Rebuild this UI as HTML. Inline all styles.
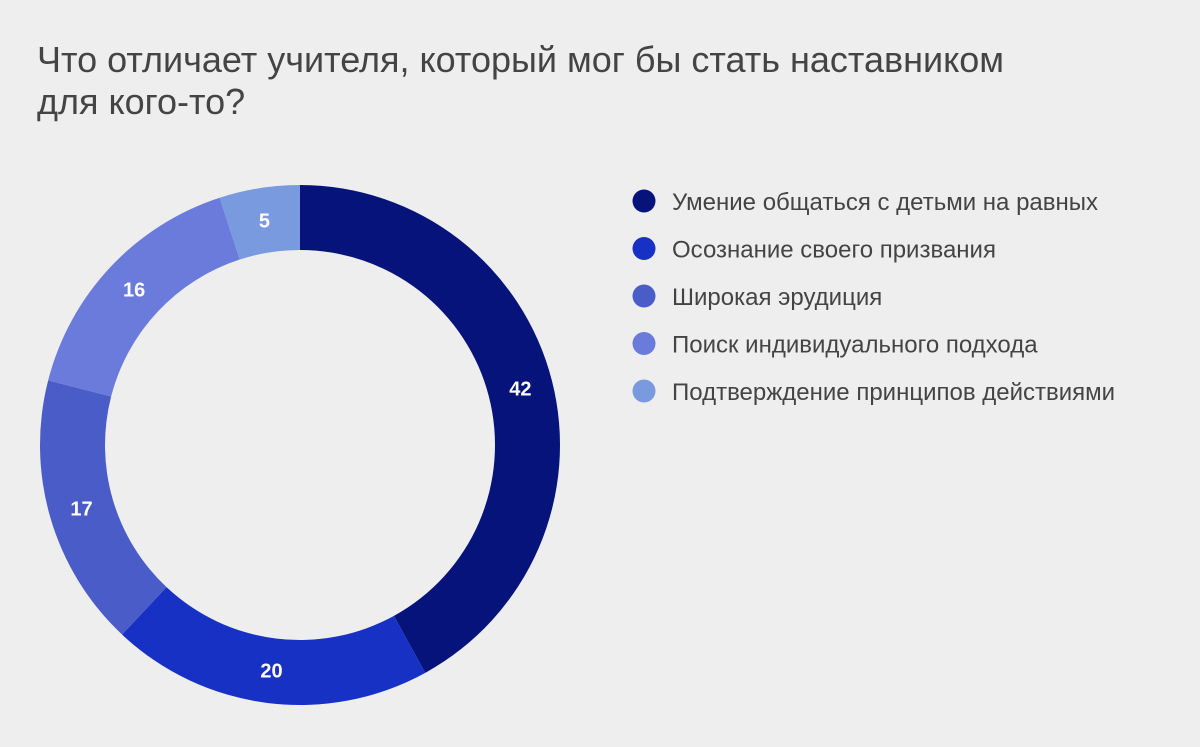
<!DOCTYPE html>
<html><head><meta charset="utf-8"><style>
body{margin:0;background:#eeeeee;width:1200px;height:742px;overflow:hidden;font-family:"Liberation Sans",sans-serif}
</style></head><body>
<svg width="1200" height="742">
<text x="37" y="72" font-size="36" fill="#444">Что отличает учителя, который мог бы стать наставником</text>
<text x="37" y="114" font-size="36" fill="#444">для кого-то?</text>
<g id="slices"></g>
<g id="legend"></g>
</svg>
<script>
const categories=["Умение общаться с детьми на равных","Осознание своего призвания","Широкая эрудиция","Поиск индивидуального подхода","Подтверждение принципов действиями"];
const values=[42,20,17,16,5];
const colors=["#06137a","#1631c4","#4a5cc8","#6a7bdc","#7a9ae0"];
const cx=300,cy=445,R=260,r=195;
const ns="http://www.w3.org/2000/svg";
const total=values.reduce((a,b)=>a+b,0);
const sg=document.getElementById('slices'),lg=document.getElementById('legend');
function pt(a,rad){return [cx+rad*Math.sin(a),cy-rad*Math.cos(a)];}
let acc=0;
values.forEach((v,i)=>{
 const a0=acc/total*2*Math.PI,a1=(acc+v)/total*2*Math.PI;acc+=v;
 const large=(a1-a0)>Math.PI?1:0;
 const p0=pt(a0,R),p1=pt(a1,R),q1=pt(a1,r),q0=pt(a0,r);
 const p=document.createElementNS(ns,'path');
 p.setAttribute('d',`M${p0}L${p0}A${R},${R} 0 ${large} 1 ${p1}L${q1}A${r},${r} 0 ${large} 0 ${q0}Z`);
 p.setAttribute('fill',colors[i]);
 
 
 sg.appendChild(p);
 const m=pt((a0+a1)/2,(R+r)/2);
 const t=document.createElementNS(ns,'text');
 t.setAttribute('x',m[0]);t.setAttribute('y',m[1]+7);
 t.setAttribute('text-anchor','middle');t.setAttribute('font-size','20');t.setAttribute('font-weight','bold');t.setAttribute('fill','#fff');
 t.textContent=v;
 
 
 sg.appendChild(t);
 const y=201+i*47.5;
 const c=document.createElementNS(ns,'circle');
 c.setAttribute('cx',644);c.setAttribute('cy',y);c.setAttribute('r',11.5);c.setAttribute('fill',colors[i]);
 
 
 lg.appendChild(c);
 const lt=document.createElementNS(ns,'text');
 lt.setAttribute('x',672);lt.setAttribute('y',y+9);lt.setAttribute('font-size','24');lt.setAttribute('fill','#444');
 lt.textContent=categories[i];
 
 
 lg.appendChild(lt);
});
</script>
</body></html>
